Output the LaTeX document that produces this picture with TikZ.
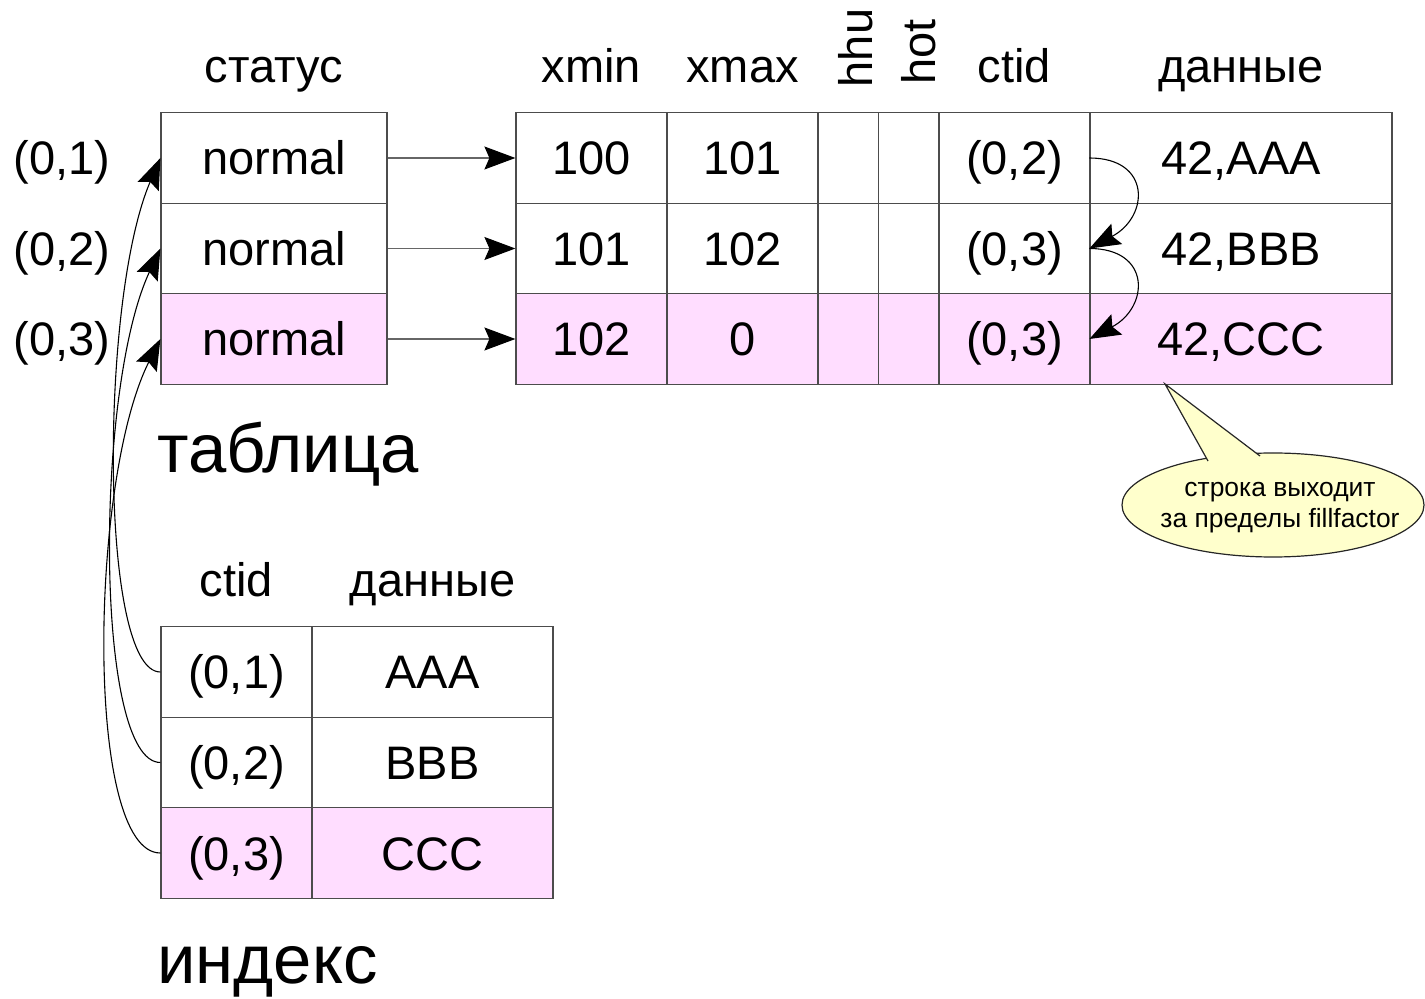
\documentclass[tikz,border=0pt]{standalone}
\usepackage{fontspec}
\setmainfont{Liberation Sans}
\usetikzlibrary{arrows.meta,shapes.geometric}
\definecolor{pinkc}{HTML}{FFDDFF}
\definecolor{yell}{HTML}{FFFFCC}
\begin{document}
\begin{tikzpicture}[x=0.5pt,y=-0.5pt,
  txt/.style={font=\fontsize{23.5}{28}\selectfont},
  cell/.style={txt, draw=black!70, line width=0.6pt, inner sep=0pt,
    minimum height=45.25pt, text height=17pt, text depth=0pt},
  wstat/.style={cell, minimum width=113pt},
  wnum/.style={cell, minimum width=75.5pt},
  wflag/.style={cell, minimum width=30.25pt},
  wdata/.style={cell, minimum width=151pt},
  widat/.style={cell, minimum width=120.5pt},
  hl/.style={fill=pinkc},
  hdr/.style={txt, inner sep=0pt, anchor=base},
  big/.style={font=\fontsize{34.4}{40}\selectfont, inner sep=0pt, anchor=base west},
  conn/.style={line width=0.55pt, -{Stealth[length=15.5pt,width=11.5pt,inset=2.5pt,color=black]}},
  hconn/.style={conn, draw=black!60}
]
\useasboundingbox (0,0) rectangle (1425,999);

% headers
\node[hdr] (hst) at (274,83) {статус};
\node[hdr] (hxmin) at (591.5,83) {xmin};
\node[hdr] (hxmax) at (742.5,83) {xmax};
\node[hdr, rotate=90] (hhhu) at (872,48) {hhu};
\node[hdr, rotate=90] (hhot) at (935,52) {hot};
\node[hdr] (hctid) at (1014.5,83) {ctid};
\node[hdr] (hdata) at (1241,83) {данные};

% row labels
\node[hdr] (r1) at (62,175) {(0,1)};
\node[hdr] (r2) at (62,265.5) {(0,2)};
\node[hdr] (r3) at (62,356) {(0,3)};

% status column
\node[wstat] (s1) at (274,158) {normal};
\node[wstat] (s2) at (274,248.5) {normal};
\node[wstat, hl] (s3) at (274,339) {normal};

% tuples
\node[wnum] (x1) at (591.5,158) {100};
\node[wnum] (y1) at (742.5,158) {101};
\node[wflag] (u1) at (848.5,158) {};
\node[wflag] (o1) at (909,158) {};
\node[wnum] (c1) at (1014.5,158) {(0,2)};
\node[wdata] (d1) at (1241,158) {42,AAA};

\node[wnum] (x2) at (591.5,248.5) {101};
\node[wnum] (y2) at (742.5,248.5) {102};
\node[wflag] (u2) at (848.5,248.5) {};
\node[wflag] (o2) at (909,248.5) {};
\node[wnum] (c2) at (1014.5,248.5) {(0,3)};
\node[wdata] (d2) at (1241,248.5) {42,BBB};

\node[wnum, hl] (x3) at (591.5,339) {102};
\node[wnum, hl] (y3) at (742.5,339) {0};
\node[wflag, hl] (u3) at (848.5,339) {};
\node[wflag, hl] (o3) at (909,339) {};
\node[wnum, hl] (c3) at (1014.5,339) {(0,3)};
\node[wdata, hl] (d3) at (1241,339) {42,CCC};

% titles
\node[big] (ttab) at (157,473) {таблица};
\node[big] (tidx) at (157,983) {индекс};

% index
\node[hdr] (ihctid) at (236.5,597) {ctid};
\node[hdr] (ihdata) at (432.5,597) {данные};
\node[wnum] (i1) at (236.5,672) {(0,1)};
\node[widat] (j1) at (432.5,672) {AAA};
\node[wnum] (i2) at (236.5,762.5) {(0,2)};
\node[widat] (j2) at (432.5,762.5) {BBB};
\node[wnum, hl] (i3) at (236.5,853) {(0,3)};
\node[widat, hl] (j3) at (432.5,853) {CCC};

% pointers from status to tuples
\draw[hconn] (s1.east) -- (x1.west);
\draw[hconn] (s2.east) -- (x2.west);
\draw[hconn] (s3.east) -- (x3.west);

% update chain
\draw[conn] (d1.west) .. controls +(62,0) and +(60,-32) .. (d2.west);
\draw[conn] (d2.west) .. controls +(62,0) and +(60,-32) .. (d3.west);

% index pointers
\draw[conn] (i1.west) .. controls +(-61,0) and +(-61,142) .. (s1.west);
\draw[conn] (i2.west) .. controls +(-66,0) and +(-66,141) .. (s2.west);
\draw[conn] (i3.west) .. controls +(-76,0) and +(-71,141) .. (s3.west);

% callout
\node[ellipse, draw=black!85, fill=yell, line width=0.6pt, minimum width=151pt, minimum height=52pt, inner sep=0pt] (call) at (1273,505) {};
\coordinate (tip) at (1165,384);
\coordinate (bl) at (1208,461);
\coordinate (br) at (1260,456);
\fill[yell] (bl) -- (tip) -- (br) -- cycle;
\draw[black!85, line width=0.6pt, line join=miter] (bl) -- (tip) -- (br);
\node[align=center, font=\fontsize{13.2}{15.5}\selectfont, inner sep=0pt] (calltext) at (1280,508) {строка выходит\\за пределы fillfactor};
\end{tikzpicture}
\end{document}
